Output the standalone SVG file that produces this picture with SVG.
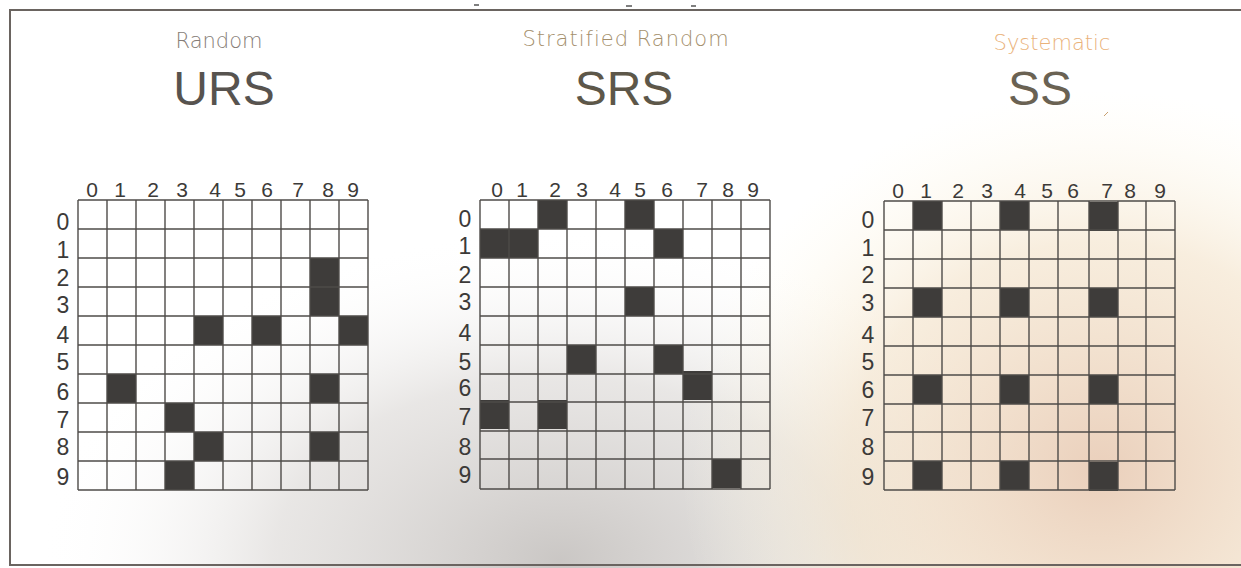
<svg xmlns="http://www.w3.org/2000/svg" width="1241" height="568" viewBox="0 0 1241 568">
  <defs>
    <radialGradient id="shadeGray" cx="0" cy="0" r="1" gradientUnits="userSpaceOnUse" gradientTransform="translate(560 560) scale(520 330)">
      <stop offset="0" stop-color="#bdb9b6" stop-opacity="0.8"/>
      <stop offset="0.55" stop-color="#d2cecb" stop-opacity="0.5"/>
      <stop offset="1" stop-color="#ffffff" stop-opacity="0"/>
    </radialGradient>
    <radialGradient id="shadePeach" cx="0" cy="0" r="1" gradientUnits="userSpaceOnUse" gradientTransform="translate(1100 470) scale(420 380)">
      <stop offset="0" stop-color="#e9cdb8" stop-opacity="0.95"/>
      <stop offset="0.6" stop-color="#f3e2c8" stop-opacity="0.6"/>
      <stop offset="1" stop-color="#fffbe8" stop-opacity="0"/>
    </radialGradient>
    <style>
      .hand { font-family: "DejaVu Sans", "Liberation Sans", sans-serif; font-weight: 300; font-size: 21px; }
      .head { font-family: "Liberation Sans", Arial, sans-serif; font-size: 48px; text-anchor: middle; }
      .num { font-family: "Liberation Sans", Arial, sans-serif; font-size: 21px; fill: #3c3a38; text-anchor: middle; }
      .row { font-size: 23px; }
      .grid line { stroke: #4e4b48; stroke-width: 1.4; }
      .cell { fill: #3e3c3a; }
      .frame { fill: none; stroke: #6a6460; stroke-width: 2; }
    </style>
  </defs>

  <rect x="0" y="0" width="1241" height="568" fill="#ffffff"/>
  <rect x="0" y="0" width="1241" height="568" fill="url(#shadeGray)"/>
  <rect x="0" y="0" width="1241" height="568" fill="url(#shadePeach)"/>

  <g id="frame">
    <path class="frame" d="M1241 10 H10 V565 H1241"/>
    <line x1="474" y1="5" x2="479" y2="5" stroke="#555" stroke-width="1.5"/>
    <line x1="626" y1="6" x2="632" y2="6" stroke="#555" stroke-width="1.5"/>
    <line x1="691" y1="6" x2="696" y2="6" stroke="#555" stroke-width="1.5"/>
  </g>

  <g id="titles">
    <text class="hand" x="219" y="48" text-anchor="middle" fill="#857c76">Random</text>
    <text class="hand" x="626" y="46" text-anchor="middle" fill="#a48f6c" letter-spacing="1">Stratified Random</text>
    <text class="hand" x="1052" y="50" text-anchor="middle" fill="#eab27a">Systematic</text>
    <text class="head" x="224" y="105" fill="#57534f">URS</text>
    <text class="head" x="624" y="105" fill="#5d5749">SRS</text>
    <text class="head" x="1040" y="105" fill="#6a6253">SS</text>
    <line x1="1104" y1="116" x2="1108" y2="112" stroke="#c9a070" stroke-width="1"/>
  </g>

  <!-- URS grid -->
  <g id="grid-urs">
    <g>
      <rect class="cell" x="310" y="258" width="29" height="58"/>
      <rect class="cell" x="194" y="316" width="29" height="29"/>
      <rect class="cell" x="252" y="316" width="29" height="29"/>
      <rect class="cell" x="339" y="316" width="29" height="29"/>
      <rect class="cell" x="107" y="374" width="29" height="29"/>
      <rect class="cell" x="310" y="374" width="29" height="29"/>
      <rect class="cell" x="165" y="403" width="29" height="29"/>
      <rect class="cell" x="194" y="432" width="29" height="29"/>
      <rect class="cell" x="310" y="432" width="29" height="29"/>
      <rect class="cell" x="165" y="461" width="29" height="29"/>
    </g>
    <g class="grid">
      <line x1="78" y1="200" x2="78" y2="490"/><line x1="107" y1="200" x2="107" y2="490"/>
      <line x1="136" y1="200" x2="136" y2="490"/><line x1="165" y1="200" x2="165" y2="490"/>
      <line x1="194" y1="200" x2="194" y2="490"/><line x1="223" y1="200" x2="223" y2="490"/>
      <line x1="252" y1="200" x2="252" y2="490"/><line x1="281" y1="200" x2="281" y2="490"/>
      <line x1="310" y1="200" x2="310" y2="490"/><line x1="339" y1="200" x2="339" y2="490"/>
      <line x1="368" y1="200" x2="368" y2="490"/>
      <line x1="78" y1="200" x2="368" y2="200"/><line x1="78" y1="229" x2="368" y2="229"/>
      <line x1="78" y1="258" x2="368" y2="258"/><line x1="78" y1="287" x2="368" y2="287"/>
      <line x1="78" y1="316" x2="368" y2="316"/><line x1="78" y1="345" x2="368" y2="345"/>
      <line x1="78" y1="374" x2="368" y2="374"/><line x1="78" y1="403" x2="368" y2="403"/>
      <line x1="78" y1="432" x2="368" y2="432"/><line x1="78" y1="461" x2="368" y2="461"/>
      <line x1="78" y1="490" x2="368" y2="490"/>
    </g>
    <g>
      <text class="num" x="92" y="197">0</text><text class="num" x="120" y="197">1</text>
      <text class="num" x="153" y="197">2</text><text class="num" x="182" y="197">3</text>
      <text class="num" x="215" y="197">4</text><text class="num" x="240" y="197">5</text>
      <text class="num" x="267" y="197">6</text><text class="num" x="298" y="197">7</text>
      <text class="num" x="328" y="197">8</text><text class="num" x="353" y="197">9</text>
      <text class="num row" x="63" y="230">0</text><text class="num row" x="63" y="258">1</text>
      <text class="num row" x="63" y="286">2</text><text class="num row" x="63" y="313">3</text>
      <text class="num row" x="63" y="343">4</text><text class="num row" x="63" y="370">5</text>
      <text class="num row" x="63" y="400">6</text><text class="num row" x="63" y="428">7</text>
      <text class="num row" x="63" y="455">8</text><text class="num row" x="63" y="485">9</text>
    </g>
  </g>

  <!-- SRS grid -->
  <g id="grid-srs">
    <g>
      <rect class="cell" x="538" y="200" width="29" height="29"/>
      <rect class="cell" x="625" y="200" width="29" height="29"/>
      <rect class="cell" x="480" y="229" width="58" height="29"/>
      <rect class="cell" x="654" y="229" width="29" height="29"/>
      <rect class="cell" x="625" y="287" width="29" height="29"/>
      <rect class="cell" x="567" y="345" width="29" height="29"/>
      <rect class="cell" x="654" y="345" width="29" height="29"/>
      <rect class="cell" x="683" y="371" width="29" height="29"/>
      <rect class="cell" x="480" y="400" width="29" height="29"/>
      <rect class="cell" x="538" y="400" width="29" height="29"/>
      <rect class="cell" x="712" y="459" width="29" height="29"/>
    </g>
    <g class="grid">
      <line x1="480" y1="200" x2="480" y2="489"/><line x1="509" y1="200" x2="509" y2="489"/>
      <line x1="538" y1="200" x2="538" y2="489"/><line x1="567" y1="200" x2="567" y2="489"/>
      <line x1="596" y1="200" x2="596" y2="489"/><line x1="625" y1="200" x2="625" y2="489"/>
      <line x1="654" y1="200" x2="654" y2="489"/><line x1="683" y1="200" x2="683" y2="489"/>
      <line x1="712" y1="200" x2="712" y2="489"/><line x1="741" y1="200" x2="741" y2="489"/>
      <line x1="770" y1="200" x2="770" y2="489"/>
      <line x1="480" y1="200" x2="770" y2="200"/><line x1="480" y1="229" x2="770" y2="229"/>
      <line x1="480" y1="258" x2="770" y2="258"/><line x1="480" y1="287" x2="770" y2="287"/>
      <line x1="480" y1="316" x2="770" y2="316"/><line x1="480" y1="345" x2="770" y2="345"/>
      <line x1="480" y1="374" x2="770" y2="374"/><line x1="480" y1="402" x2="770" y2="402"/>
      <line x1="480" y1="431" x2="770" y2="431"/><line x1="480" y1="459" x2="770" y2="459"/>
      <line x1="480" y1="489" x2="770" y2="489"/>
    </g>
    <g>
      <text class="num" x="497" y="197">0</text><text class="num" x="522" y="197">1</text>
      <text class="num" x="555" y="197">2</text><text class="num" x="582" y="197">3</text>
      <text class="num" x="615" y="197">4</text><text class="num" x="640" y="197">5</text>
      <text class="num" x="667" y="197">6</text><text class="num" x="702" y="197">7</text>
      <text class="num" x="728" y="197">8</text><text class="num" x="753" y="197">9</text>
      <text class="num row" x="465" y="227">0</text><text class="num row" x="465" y="254">1</text>
      <text class="num row" x="465" y="283">2</text><text class="num row" x="465" y="310">3</text>
      <text class="num row" x="465" y="341">4</text><text class="num row" x="465" y="370">5</text>
      <text class="num row" x="465" y="396">6</text><text class="num row" x="465" y="425">7</text>
      <text class="num row" x="465" y="455">8</text><text class="num row" x="465" y="483">9</text>
    </g>
  </g>

  <!-- SS grid -->
  <g id="grid-ss">
    <g>
      <rect class="cell" x="913" y="201" width="29" height="29"/>
      <rect class="cell" x="1000" y="201" width="29" height="29"/>
      <rect class="cell" x="1089" y="202" width="29" height="29"/>
      <rect class="cell" x="913" y="288" width="29" height="29"/>
      <rect class="cell" x="1000" y="288" width="29" height="29"/>
      <rect class="cell" x="1089" y="288" width="29" height="29"/>
      <rect class="cell" x="913" y="375" width="29" height="29"/>
      <rect class="cell" x="1000" y="375" width="29" height="29"/>
      <rect class="cell" x="1089" y="375" width="29" height="29"/>
      <rect class="cell" x="913" y="461" width="29" height="29"/>
      <rect class="cell" x="1000" y="461" width="29" height="29"/>
      <rect class="cell" x="1089" y="462" width="29" height="29"/>
    </g>
    <g class="grid">
      <line x1="884" y1="201" x2="884" y2="490"/><line x1="913" y1="201" x2="913" y2="490"/>
      <line x1="942" y1="201" x2="942" y2="490"/><line x1="971" y1="201" x2="971" y2="490"/>
      <line x1="1000" y1="201" x2="1000" y2="490"/><line x1="1029" y1="201" x2="1029" y2="490"/>
      <line x1="1058" y1="201" x2="1058" y2="490"/><line x1="1089" y1="201" x2="1089" y2="490"/>
      <line x1="1118" y1="201" x2="1118" y2="490"/><line x1="1146" y1="201" x2="1146" y2="490"/>
      <line x1="1175" y1="201" x2="1175" y2="490"/>
      <line x1="884" y1="201" x2="1175" y2="201"/><line x1="884" y1="230" x2="1175" y2="230"/>
      <line x1="884" y1="259" x2="1175" y2="259"/><line x1="884" y1="288" x2="1175" y2="288"/>
      <line x1="884" y1="317" x2="1175" y2="317"/><line x1="884" y1="346" x2="1175" y2="346"/>
      <line x1="884" y1="375" x2="1175" y2="375"/><line x1="884" y1="404" x2="1175" y2="404"/>
      <line x1="884" y1="432" x2="1175" y2="432"/><line x1="884" y1="461" x2="1175" y2="461"/>
      <line x1="884" y1="490" x2="1175" y2="490"/>
    </g>
    <g>
      <text class="num" x="898" y="198">0</text><text class="num" x="926" y="198">1</text>
      <text class="num" x="958" y="198">2</text><text class="num" x="987" y="198">3</text>
      <text class="num" x="1020" y="198">4</text><text class="num" x="1047" y="198">5</text>
      <text class="num" x="1073" y="198">6</text><text class="num" x="1107" y="198">7</text>
      <text class="num" x="1130" y="198">8</text><text class="num" x="1160" y="198">9</text>
      <text class="num row" x="868" y="228">0</text><text class="num row" x="868" y="256">1</text>
      <text class="num row" x="868" y="283">2</text><text class="num row" x="868" y="311">3</text>
      <text class="num row" x="868" y="343">4</text><text class="num row" x="868" y="370">5</text>
      <text class="num row" x="868" y="398">6</text><text class="num row" x="868" y="426">7</text>
      <text class="num row" x="868" y="455">8</text><text class="num row" x="868" y="485">9</text>
    </g>
  </g>
</svg>
